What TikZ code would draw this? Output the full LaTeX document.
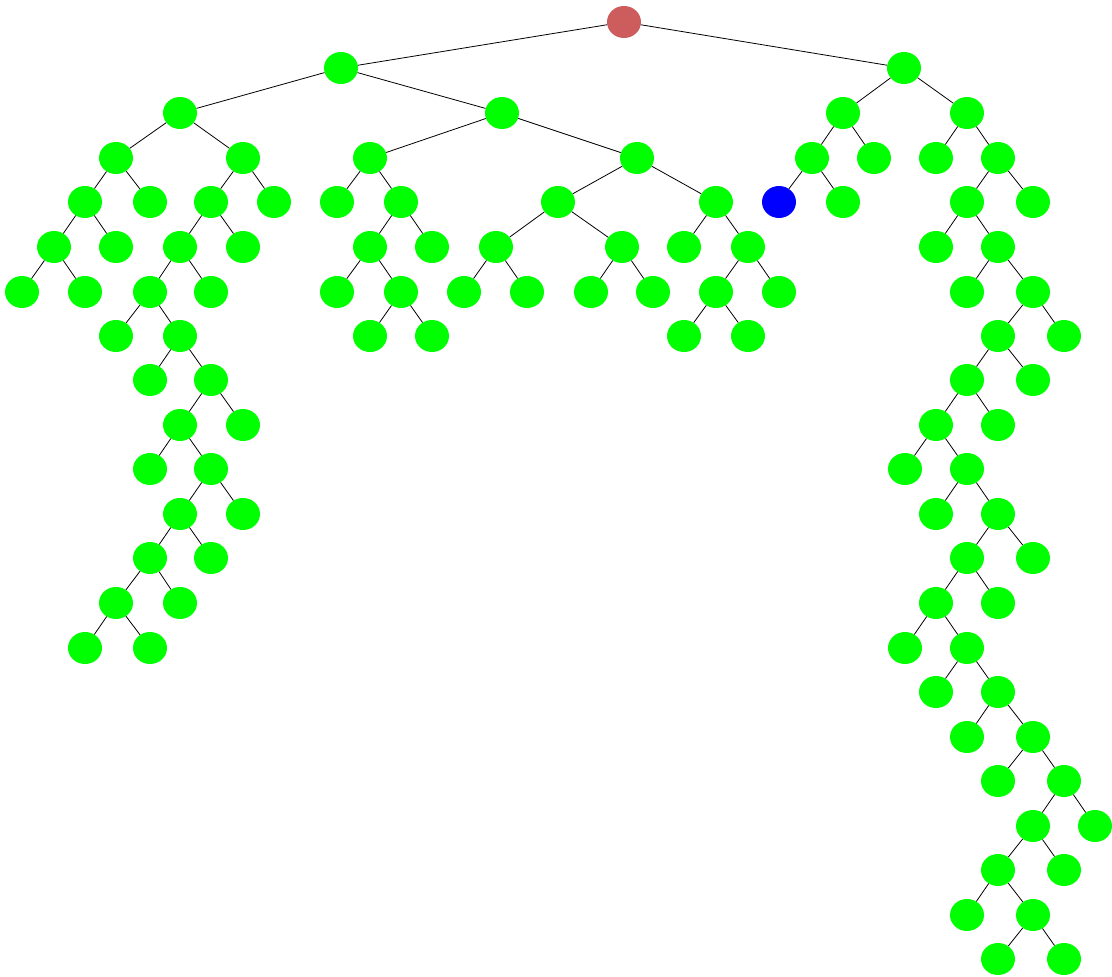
\documentclass[tikz,border=0pt]{standalone}
\usetikzlibrary{shapes.geometric}
\begin{document}
\begin{tikzpicture}[x=1pt,y=-1pt,
  g/.style={ellipse,fill=green,minimum width=34pt,minimum height=32pt,inner sep=0pt},
  rt/.style={g,fill={rgb,255:red,205;green,92;blue,92}},
  bl/.style={g,fill=blue},
  edge/.style={line width=0.8pt,black}]
\useasboundingbox (0,0) rectangle (1112,977);
\path
 (624,22) node[rt] (r) {}
 (341,68) node[g] (a) {}
 (904,68) node[g] (b) {}
 (180,113) node[g] (a1) {}
 (502,113) node[g] (a2) {}
 (843,113) node[g] (b1) {}
 (967,113) node[g] (b2) {}
 (116,158) node[g] (c1) {}
 (243,158) node[g] (c2) {}
 (85,202) node[g] (c3) {}
 (150,202) node[g] (c4) {}
 (54,247) node[g] (c5) {}
 (116,247) node[g] (c6) {}
 (22,292) node[g] (c7) {}
 (85,292) node[g] (c8) {}
 (211,202) node[g] (c9) {}
 (274,202) node[g] (c10) {}
 (180,247) node[g] (c11) {}
 (243,247) node[g] (c12) {}
 (150,292) node[g] (c13) {}
 (211,292) node[g] (c14) {}
 (116,336) node[g] (c15) {}
 (180,336) node[g] (c16) {}
 (150,380) node[g] (c17) {}
 (211,380) node[g] (c18) {}
 (180,425) node[g] (c19) {}
 (243,425) node[g] (c20) {}
 (150,469) node[g] (c21) {}
 (211,469) node[g] (c22) {}
 (180,514) node[g] (c23) {}
 (243,514) node[g] (c24) {}
 (150,558) node[g] (c25) {}
 (211,558) node[g] (c26) {}
 (116,603) node[g] (c27) {}
 (180,603) node[g] (c28) {}
 (85,648) node[g] (c29) {}
 (150,648) node[g] (c30) {}
 (370,158) node[g] (d1) {}
 (637,158) node[g] (d2) {}
 (337,202) node[g] (d3) {}
 (401,202) node[g] (d4) {}
 (370,247) node[g] (d5) {}
 (432,247) node[g] (d6) {}
 (337,292) node[g] (d7) {}
 (401,292) node[g] (d8) {}
 (370,336) node[g] (d9) {}
 (432,336) node[g] (d10) {}
 (558,202) node[g] (d11) {}
 (716,202) node[g] (d12) {}
 (496,247) node[g] (d13) {}
 (622,247) node[g] (d14) {}
 (464,292) node[g] (d15) {}
 (527,292) node[g] (d16) {}
 (591,292) node[g] (d17) {}
 (653,292) node[g] (d18) {}
 (684,247) node[g] (d19) {}
 (748,247) node[g] (d20) {}
 (716,292) node[g] (d21) {}
 (779,292) node[g] (d22) {}
 (684,336) node[g] (d23) {}
 (748,336) node[g] (d24) {}
 (812,158) node[g] (e1) {}
 (874,158) node[g] (e2) {}
 (779,202) node[bl] (e3) {}
 (843,202) node[g] (e4) {}
 (936,158) node[g] (f1) {}
 (998,158) node[g] (f2) {}
 (967,202) node[g] (f3) {}
 (1033,202) node[g] (f4) {}
 (936,247) node[g] (f5) {}
 (998,247) node[g] (f6) {}
 (967,292) node[g] (f7) {}
 (1033,292) node[g] (f8) {}
 (998,336) node[g] (f9) {}
 (1064,336) node[g] (f10) {}
 (967,380) node[g] (f11) {}
 (1033,380) node[g] (f12) {}
 (936,425) node[g] (f13) {}
 (998,425) node[g] (f14) {}
 (905,469) node[g] (f15) {}
 (967,469) node[g] (f16) {}
 (936,514) node[g] (f17) {}
 (998,514) node[g] (f18) {}
 (967,558) node[g] (f19) {}
 (1033,558) node[g] (f20) {}
 (936,603) node[g] (f21) {}
 (998,603) node[g] (f22) {}
 (905,648) node[g] (f23) {}
 (967,648) node[g] (f24) {}
 (936,692) node[g] (f25) {}
 (998,692) node[g] (f26) {}
 (967,737) node[g] (f27) {}
 (1033,737) node[g] (f28) {}
 (998,781) node[g] (f29) {}
 (1064,781) node[g] (f30) {}
 (1033,826) node[g] (f31) {}
 (1095,826) node[g] (f32) {}
 (998,870) node[g] (f33) {}
 (1064,870) node[g] (f34) {}
 (967,915) node[g] (f35) {}
 (1033,915) node[g] (f36) {}
 (998,959) node[g] (f37) {}
 (1064,959) node[g] (f38) {};
\foreach \p/\q in {r/a,r/b,a/a1,a/a2,b/b1,b/b2,
  a1/c1,a1/c2,c1/c3,c1/c4,c3/c5,c3/c6,c5/c7,c5/c8,c2/c9,c2/c10,c9/c11,c9/c12,
  c11/c13,c11/c14,c13/c15,c13/c16,c16/c17,c16/c18,c18/c19,c18/c20,c19/c21,c19/c22,
  c22/c23,c22/c24,c23/c25,c23/c26,c25/c27,c25/c28,c27/c29,c27/c30,
  a2/d1,a2/d2,d1/d3,d1/d4,d4/d5,d4/d6,d5/d7,d5/d8,d8/d9,d8/d10,d2/d11,d2/d12,
  d11/d13,d11/d14,d13/d15,d13/d16,d14/d17,d14/d18,d12/d19,d12/d20,d20/d21,d20/d22,
  d21/d23,d21/d24,
  b1/e1,b1/e2,e1/e3,e1/e4,
  b2/f1,b2/f2,f2/f3,f2/f4,f3/f5,f3/f6,f6/f7,f6/f8,f8/f9,f8/f10,f9/f11,f9/f12,
  f11/f13,f11/f14,f13/f15,f13/f16,f16/f17,f16/f18,f18/f19,f18/f20,f19/f21,f19/f22,
  f21/f23,f21/f24,f24/f25,f24/f26,f26/f27,f26/f28,f28/f29,f28/f30,f30/f31,f30/f32,
  f31/f33,f31/f34,f33/f35,f33/f36,f36/f37,f36/f38}
  \draw[edge] (\p) -- (\q);
\end{tikzpicture}
\end{document}
